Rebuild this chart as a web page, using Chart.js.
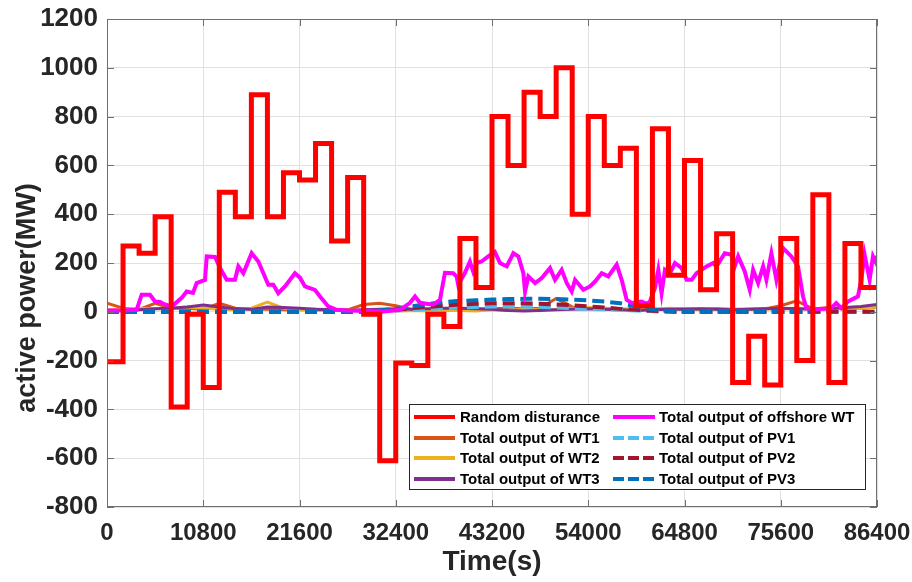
<!DOCTYPE html>
<html><head><meta charset="utf-8">
<script src="https://cdn.jsdelivr.net/npm/chart.js@4.4.1/dist/chart.umd.min.js"></script>
<style>html,body{margin:0;padding:0;background:#fff;}#wrap{width:912px;height:582px;position:relative;}</style>
</head><body><div id="wrap"><canvas id="c" width="912" height="582"></canvas></div>
<script>
// ---- data ----
const xTicks = [0, 10800, 21600, 32400, 43200, 54000, 64800, 75600, 86400];
const yTicks = [-800, -600, -400, -200, 0, 200, 400, 600, 800, 1000, 1200];
const stepTimes = [0,1800,3600,5400,7200,9000,10800,12600,14400,16200,18000,19800,21600,23400,25200,27000,28800,30600,32400,34200,36000,37800,39600,41400,43200,45000,46800,48600,50400,52200,54000,55800,57600,59400,61200,63000,64800,66600,68400,70200,72000,73800,75600,77400,79200,81000,82800,84600,86400];
const disturbance = [-205,270,240,390,-390,-10,-310,490,390,890,390,570,540,690,290,550,-10,-610,-210,-220,-10,-60,300,100,800,600,900,800,1000,400,800,600,670,25,750,150,620,90,320,-290,-100,-300,300,-200,480,-290,280,100,100];
const wt1 = [35,15,10,35,15,15,10,35,15,10,10,8,8,10,8,8,30,35,25,10,8,8,10,10,12,15,12,15,55,20,15,12,10,8,10,12,12,10,12,10,10,12,25,45,12,12,15,15,20];
const wt2 = [8,10,15,12,15,20,15,10,8,15,40,15,8,5,5,5,8,5,3,5,3,5,5,3,8,5,10,8,10,15,18,15,12,10,5,15,12,10,10,8,10,12,10,15,10,20,10,15,20];
const wt3 = [5,5,8,12,15,20,28,20,12,10,20,18,15,10,8,5,8,10,12,10,12,15,15,12,10,5,3,5,8,10,12,10,8,5,8,10,10,12,10,8,10,12,15,12,10,12,18,22,30];
const pv1 = [0,0,0,0,0,0,0,0,0,0,0,0,0,0,0,0,0,2,5,8,12,15,18,20,22,22,22,20,18,15,12,10,8,5,2,0,0,0,0,0,0,0,0,0,0,0,0,0,0];
const pv2 = [0,0,0,0,0,0,0,0,0,0,0,0,0,0,0,0,0,3,8,15,20,25,30,33,35,35,35,33,30,27,22,18,12,8,4,1,0,0,0,0,0,0,0,0,0,0,0,0,0];
const pv3 = [0,0,0,0,0,0,0,0,0,0,0,0,0,0,0,0,0,5,12,22,32,40,45,47,50,52,53,53,52,50,47,42,35,22,10,3,0,0,0,0,0,0,0,0,0];
const offshoreTime = [0,1800,3330,3890,4820,5390,5950,6500,7260,8380,8940,9650,10060,11000,11190,12120,12680,13430,14360,14740,15300,16230,16980,18100,18660,19220,19970,21090,21650,22210,23330,23900,24830,25760,27000,29000,31000,32880,34000,34560,35120,36610,37360,37920,38850,39230,39410,40160,40720,41090,41470,42030,42770,43520,44100,44850,45600,46160,46720,46910,47280,48030,48780,49710,50270,51020,51580,52140,52520,53450,54200,54760,55510,56250,57190,57750,58310,58870,59990,60550,60920,61480,61860,62230,62610,63170,63730,64480,65040,65590,66150,66710,67270,68020,68390,69320,70070,70440,70820,71560,72120,72500,73060,73620,73990,74550,75110,75860,76790,77540,78100,78470,79500,81270,81830,82390,83140,83890,84260,84640,85010,85570,85950,86320,86400];
const offshoreWT = [5,5,8,70,70,42,40,30,22,57,83,77,118,131,227,225,180,131,131,186,158,240,206,111,111,76,104,158,140,104,90,63,22,8,5,3,1,8,37,63,37,29,49,160,158,145,110,160,206,165,200,206,227,245,200,186,240,227,158,83,145,118,138,179,131,172,118,83,131,90,104,124,158,145,193,131,49,36,42,33,42,97,172,76,172,158,200,179,131,131,158,172,186,200,186,240,234,186,227,165,90,172,118,186,131,240,131,261,227,186,63,15,10,15,36,15,42,56,63,131,234,131,227,200,230];
const seriesNames = ['Random disturance','Total output of WT1','Total output of WT2','Total output of WT3','Total output of offshore WT','Total output of PV1','Total output of PV2','Total output of PV3'];

const FONT = '"Liberation Sans", Arial, Helvetica, sans-serif';
const pts = (xs, ys) => xs.map((x, i) => ({x, y: ys[i]}));

const datasets = [
  {label: seriesNames[0], data: pts(stepTimes, disturbance), borderColor:'#FF0000', borderWidth:5, stepped:'before', order:0},
  {label: seriesNames[1], data: pts(stepTimes, wt1), borderColor:'#D95319', borderWidth:3, order:7},
  {label: seriesNames[2], data: pts(stepTimes, wt2), borderColor:'#EDB120', borderWidth:3, order:6},
  {label: seriesNames[3], data: pts(stepTimes, wt3), borderColor:'#7E2F8E', borderWidth:3, order:5},
  {label: seriesNames[4], data: pts(offshoreTime, offshoreWT), borderColor:'#FF00FF', borderWidth:4, order:1},
  {label: seriesNames[5], data: pts(stepTimes, pv1), borderColor:'#4DBEEE', borderWidth:4, borderDash:[12,6], order:4},
  {label: seriesNames[6], data: pts(stepTimes, pv2), borderColor:'#A2142F', borderWidth:4, borderDash:[12,6], order:3},
  {label: seriesNames[7], data: pts(stepTimes, pv3), borderColor:'#0072BD', borderWidth:4, borderDash:[12,6], order:2}
];
datasets.forEach(d => { d.pointRadius = 0; d.fill = false; d.tension = 0; d.borderJoinStyle = 'miter'; });

const framePlugin = {
  id: 'frame',
  afterDatasetsDraw(chart) {
    const {ctx, chartArea: a, scales} = chart;
    ctx.save();
    ctx.strokeStyle = '#6f6f6f';
    ctx.lineWidth = 1;
    ctx.strokeRect(Math.round(a.left) + 0.5, Math.round(a.top) + 0.5, Math.round(a.right - a.left) - 1, Math.round(a.bottom - a.top) - 1);
    ctx.beginPath();
    const L = 7;
    xTicks.forEach(v => {
      const x = Math.round(scales.x.getPixelForValue(v)) + 0.5;
      ctx.moveTo(x, a.bottom); ctx.lineTo(x, a.bottom - L);
      ctx.moveTo(x, a.top); ctx.lineTo(x, a.top + L);
    });
    yTicks.forEach(v => {
      const y = Math.round(scales.y.getPixelForValue(v)) + 0.5;
      ctx.moveTo(a.left, y); ctx.lineTo(a.left + L, y);
      ctx.moveTo(a.right, y); ctx.lineTo(a.right - L, y);
    });
    ctx.stroke();
    ctx.restore();
  },
  afterDraw(chart) {
    const {ctx, chartArea: a} = chart;
    ctx.save();
    ctx.fillStyle = '#262626';
    ctx.font = 'bold 28px ' + FONT;
    ctx.textAlign = 'center';
    ctx.textBaseline = 'alphabetic';
    ctx.fillText('Time(s)', (a.left + a.right) / 2, 570);
    ctx.translate(35, 298);
    ctx.rotate(-Math.PI / 2);
    ctx.font = 'bold 27px ' + FONT;
    ctx.fillText('active power(MW)', 0, 0);
    ctx.restore();

    // legend
    ctx.save();
    const bx = 409.5, by = 404.5, bw = 456, bh = 85;
    ctx.fillStyle = '#fff';
    ctx.fillRect(bx, by, bw, bh);
    ctx.strokeStyle = '#262626';
    ctx.lineWidth = 1;
    ctx.strokeRect(bx, by, bw, bh);
    const rows = [417, 438, 458, 479];
    const cols = [{l0: 414, l1: 455, t: 460}, {l0: 613, l1: 655, t: 659}];
    ctx.font = 'bold 15px ' + FONT;
    ctx.textAlign = 'left';
    ctx.textBaseline = 'middle';
    chart.data.datasets.forEach((d, i) => {
      const c = cols[Math.floor(i / 4)], y = rows[i % 4];
      ctx.beginPath();
      ctx.strokeStyle = d.borderColor;
      ctx.lineWidth = 4;
      ctx.setLineDash(d.borderDash ? [11, 4] : []);
      ctx.moveTo(c.l0, y); ctx.lineTo(c.l1, y);
      ctx.stroke();
      ctx.setLineDash([]);
      ctx.fillStyle = '#000';
      ctx.fillText(d.label, c.t, y + 1);
    });
    ctx.restore();
  }
};

new Chart(document.getElementById('c'), {
  type: 'line',
  data: {datasets},
  options: {
    responsive: false,
    animation: false,
    devicePixelRatio: 1,
    layout: {padding: {top: 19, right: 35, left: 0, bottom: 0}},
    plugins: {legend: {display: false}, tooltip: {enabled: false}},
    scales: {
      x: {
        type: 'linear', min: 0, max: 86400,
        afterBuildTicks: s => { s.ticks = xTicks.map(v => ({value: v})); },
        ticks: {font: {family: FONT, size: 24, weight: 'bold'}, color: '#262626', padding: 12, maxRotation: 0, autoSkip: false, callback: v => String(v)},
        grid: {color: '#e0e0e0', drawTicks: false, lineWidth: 1},
        border: {display: false},
        afterFit: s => { s.height = 75; s.paddingLeft = 0; s.paddingRight = 0; }
      },
      y: {
        type: 'linear', min: -800, max: 1200,
        afterBuildTicks: s => { s.ticks = yTicks.map(v => ({value: v})); },
        ticks: {font: {family: FONT, size: 26, weight: 'bold'}, color: '#262626', padding: 9, autoSkip: false, callback: v => String(v)},
        grid: {color: '#e0e0e0', drawTicks: false, lineWidth: 1},
        border: {display: false},
        afterFit: s => { s.width = 107; s.paddingTop = 0; s.paddingBottom = 0; }
      }
    }
  },
  plugins: [framePlugin]
});
</script>
</body></html>
